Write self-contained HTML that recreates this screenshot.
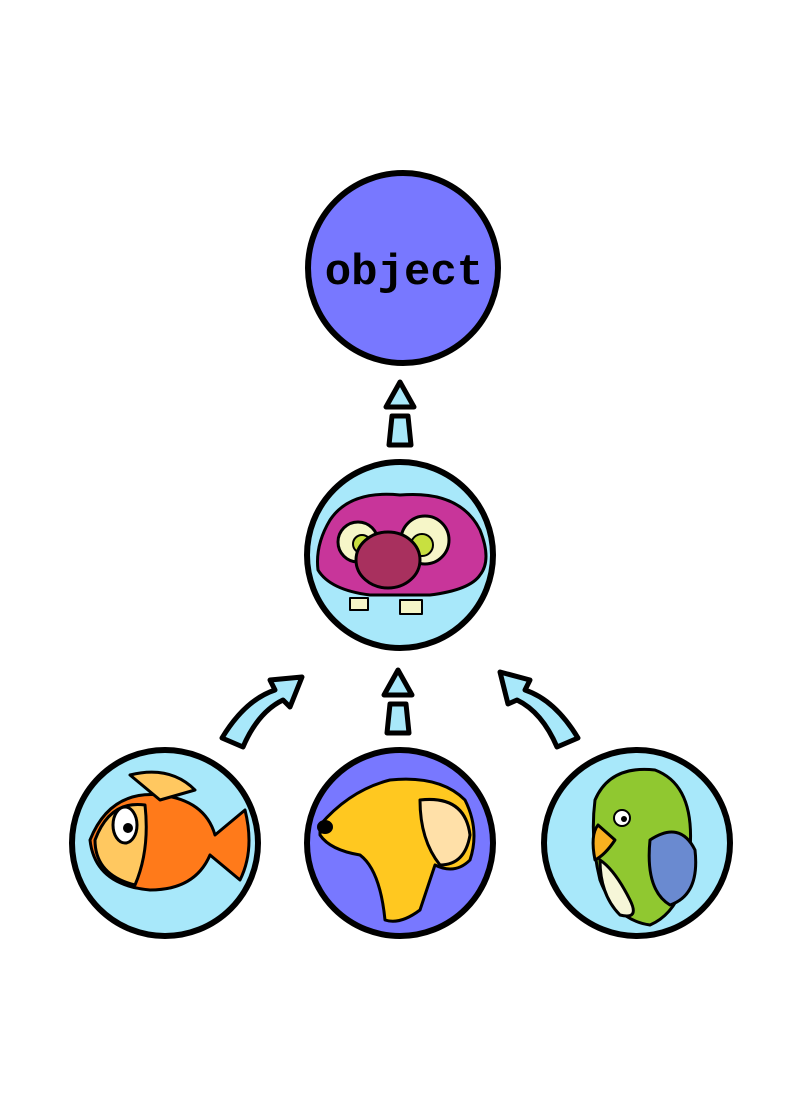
<!DOCTYPE html>
<html><head><meta charset="utf-8"><style>
html,body{margin:0;padding:0;background:#fff;}
svg{display:block}
</style></head><body>
<svg width="800" height="1100" viewBox="0 0 800 1100">
<g stroke="#000" stroke-width="6" stroke-linecap="round" stroke-linejoin="round">
 <g>
  <circle cx="403" cy="268" r="95" fill="#7878ff"/>
  <text x="404" y="284" text-anchor="middle" font-family="Liberation Mono, monospace" font-weight="bold" font-size="44" fill="#000" stroke="none">object</text>
 </g>
 <g fill="#a8e8fa" stroke-width="5">
  <polygon points="400,382 386,407 414,407"/>
  <polygon points="392,416 408,416 411,445 389,445"/>
 </g>
 <g fill="#a8e8fa" stroke-width="5">
  <polygon points="398,670 384,695 412,695"/>
  <polygon points="390,704 406,704 409,733 387,733"/>
 </g>
 <g fill="#a8e8fa" stroke-width="5">
  <path d="M222,738 Q245,700 275,690 L270,680 L302,677 L290,707 L283,700 Q258,712 243,747 Z"/>
 </g>
 <g fill="#a8e8fa" stroke-width="5">
  <path d="M578,738 Q555,700 525,690 L530,680 L500,672 L508,704 L517,700 Q542,712 557,747 Z"/>
 </g>
 <g>
  <circle cx="400" cy="555" r="93" fill="#a8e8fa"/>
  <path d="M330,520 Q350,490 400,495 Q460,490 480,530 Q492,560 480,575 Q470,590 430,595 L370,595 Q330,590 318,570 Q315,545 330,520 Z" fill="#c8359a" stroke-width="3"/>
  <circle cx="358" cy="542" r="20" fill="#f6f6c8" stroke-width="3"/>
  <circle cx="425" cy="540" r="24" fill="#f6f6c8" stroke-width="3"/>
  <circle cx="362" cy="544" r="9" fill="#c8e040" stroke-width="2"/>
  <circle cx="422" cy="545" r="11" fill="#c8e040" stroke-width="2"/>
  <ellipse cx="388" cy="560" rx="32" ry="28" fill="#a8305e" stroke-width="3"/>
  <rect x="350" y="598" width="18" height="12" fill="#f6f6c8" stroke-width="2"/>
  <rect x="400" y="600" width="22" height="14" fill="#f6f6c8" stroke-width="2"/>
 </g>
 <g>
  <circle cx="165" cy="843" r="93" fill="#a8e8fa"/>
  <path d="M90,840 Q110,790 160,795 Q205,800 215,835 L245,810 Q255,850 240,880 L210,855 Q195,890 150,890 Q95,885 90,840 Z" fill="#ff7a1a" stroke-width="3"/>
  <path d="M95,840 Q110,800 145,805 Q150,850 135,885 Q95,875 95,840 Z" fill="#ffc860" stroke-width="3"/>
  <path d="M130,775 Q170,765 195,790 L160,800 Z" fill="#ffc860" stroke-width="3"/>
  <ellipse cx="125" cy="825" rx="12" ry="18" fill="#fff" stroke-width="3"/>
  <circle cx="128" cy="828" r="5" fill="#000" stroke="none"/>
 </g>
 <g>
  <circle cx="400" cy="843" r="93" fill="#7878ff"/>
  <path d="M320,825 Q350,790 390,780 Q440,775 465,800 Q480,830 470,860 Q455,875 435,865 L420,910 Q400,925 385,920 Q380,870 360,855 Q330,850 320,835 Z" fill="#ffc820" stroke-width="3"/>
  <path d="M420,800 Q465,795 470,835 Q465,865 440,865 Q420,840 420,800 Z" fill="#ffe0a8" stroke-width="3"/>
  <ellipse cx="325" cy="827" rx="8" ry="7" fill="#000" stroke="none"/>
 </g>
 <g>
  <circle cx="637" cy="843" r="93" fill="#a8e8fa"/>
  <path d="M595,800 Q610,765 655,770 Q695,785 690,850 Q685,910 650,925 Q615,920 600,880 Q590,840 595,800 Z" fill="#90c830" stroke-width="3"/>
  <path d="M600,860 Q615,870 630,900 Q640,920 620,915 Q600,895 600,860 Z" fill="#f6f6d8" stroke-width="3"/>
  <path d="M650,840 Q680,820 695,850 Q700,895 670,905 Q645,890 650,840 Z" fill="#6a8ad0" stroke-width="3"/>
  <path d="M598,825 Q590,835 595,860 Q605,855 615,840 Z" fill="#f8b020" stroke-width="3"/>
  <circle cx="622" cy="818" r="8" fill="#fff" stroke-width="2"/>
  <circle cx="624" cy="819" r="3" fill="#000" stroke="none"/>
 </g>
</g>
</svg>
</body></html>
